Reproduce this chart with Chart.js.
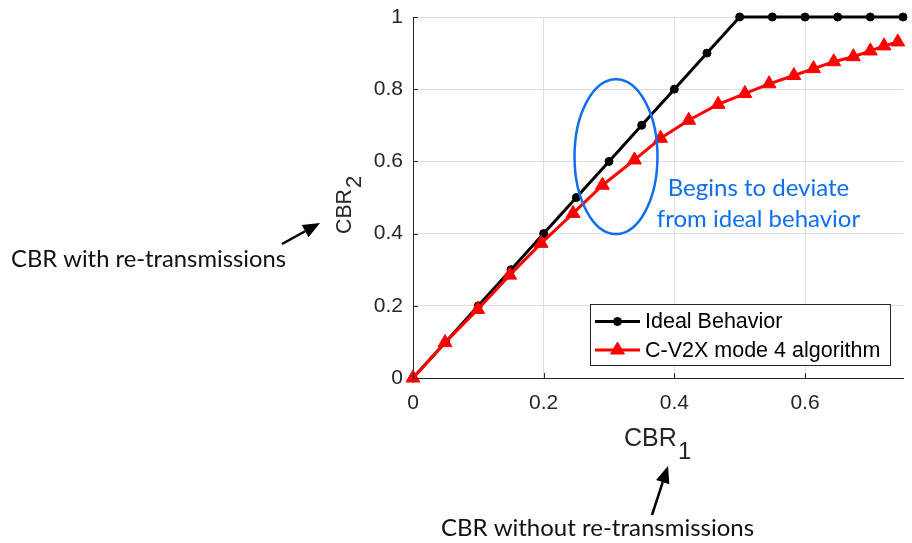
<!DOCTYPE html>
<html>
<head>
<meta charset="utf-8">
<title>CBR</title>
<script src="https://cdn.jsdelivr.net/npm/chart.js@4.4.1/dist/chart.umd.min.js"></script>
<style>
  html, body { margin: 0; padding: 0; background: #fff; }
  #wrap { width: 912px; height: 543px; }
</style>
</head>
<body>
<div id="wrap"><canvas id="cbrChart" width="912" height="543"></canvas></div>
<script>
// ideal behaviour: CBR2 = 2*CBR1, saturating at 1
var idealX = [0, 0.05, 0.1, 0.15, 0.2, 0.25, 0.3, 0.35, 0.4, 0.45, 0.5, 0.55, 0.6, 0.65, 0.7, 0.75];
var idealY = [0, 0.1, 0.2, 0.3, 0.4, 0.5, 0.6, 0.7, 0.8, 0.9, 1, 1, 1, 1, 1, 1];

// simulated C-V2X mode 4
var modeX = [0, 0.049, 0.099, 0.148, 0.196, 0.245, 0.29, 0.339, 0.379, 0.422,
             0.467, 0.508, 0.545, 0.583, 0.613, 0.644, 0.674, 0.7, 0.721, 0.742];
var modeY = [0, 0.098, 0.19, 0.285, 0.373, 0.456, 0.534, 0.604, 0.664, 0.714,
             0.758, 0.788, 0.815, 0.838, 0.857, 0.876, 0.89, 0.906, 0.92, 0.931];

var xTicks = [0, 0.2, 0.4, 0.6];
var xTickLabels = ['0', '0.2', '0.4', '0.6'];
var yTicks = [0, 0.2, 0.4, 0.6, 0.8, 1];
var yTickLabels = ['0', '0.2', '0.4', '0.6', '0.8', '1'];

var seriesNames = ['Ideal Behavior', 'C-V2X mode 4 algorithm'];

function toPoints(xs, ys) {
  return xs.map(function (v, i) { return { x: v, y: ys[i] }; });
}

var AXIS = '#262626';
var BLUE = '#0f6ff0';
var SANS = '"Liberation Sans", Arial, sans-serif';
var NOTE = 'Lato, "Open Sans", sans-serif';

function arrow(ctx, x0, y0, x1, y1) {
  var ang = Math.atan2(y1 - y0, x1 - x0);
  var hl = 17, hw = 7;
  var bx = x1 - Math.cos(ang) * hl, by = y1 - Math.sin(ang) * hl;
  ctx.strokeStyle = '#000';
  ctx.fillStyle = '#000';
  ctx.lineWidth = 2.5;
  ctx.beginPath();
  ctx.moveTo(x0, y0);
  ctx.lineTo(bx, by);
  ctx.stroke();
  ctx.beginPath();
  ctx.moveTo(x1, y1);
  ctx.lineTo(bx + Math.sin(ang) * hw, by - Math.cos(ang) * hw);
  ctx.lineTo(bx - Math.sin(ang) * hw, by + Math.cos(ang) * hw);
  ctx.closePath();
  ctx.fill();
}

// ticks pointing inwards, axis titles, legend box and the notes around the plot
var extras = {
  id: 'extras',
  afterDraw: function (chart) {
    var ctx = chart.ctx, xs = chart.scales.x, ys = chart.scales.y, a = chart.chartArea;
    ctx.save();

    ctx.strokeStyle = AXIS;
    ctx.lineWidth = 1;
    ctx.beginPath();
    xTicks.forEach(function (v) {
      var px = Math.round(xs.getPixelForValue(v)) + 0.5;
      ctx.moveTo(px, a.bottom); ctx.lineTo(px, a.bottom - 5);
    });
    yTicks.forEach(function (v) {
      var py = Math.round(ys.getPixelForValue(v)) + 0.5;
      ctx.moveTo(a.left, py); ctx.lineTo(a.left + 5, py);
    });
    ctx.stroke();

    // axis titles with subscripts
    ctx.fillStyle = AXIS;
    ctx.textAlign = 'left';
    ctx.textBaseline = 'alphabetic';
    ctx.font = '25px ' + SANS;
    ctx.fillText('CBR', 624, 446, 53);
    ctx.font = '24px ' + SANS;
    ctx.fillText('1', 678, 459);

    ctx.save();
    ctx.translate(351, 234);
    ctx.rotate(-Math.PI / 2);
    ctx.font = '22px ' + SANS;
    ctx.fillText('CBR', 0, 0, 45);
    ctx.fillText('2', 46, 10);
    ctx.restore();

    // legend
    var lx = 590.5, ly = 304.5, lw = 300, lh = 61;
    ctx.fillStyle = '#fff';
    ctx.fillRect(lx, ly, lw, lh);
    ctx.strokeStyle = AXIS;
    ctx.lineWidth = 1;
    ctx.strokeRect(lx, ly, lw, lh);
    var rows = [321.5, 350];
    var fits = [140, 240];
    chart.data.datasets.forEach(function (ds, i) {
      var ry = rows[i];
      ctx.strokeStyle = ds.borderColor;
      ctx.lineWidth = ds.borderWidth;
      ctx.beginPath();
      ctx.moveTo(595, ry); ctx.lineTo(640, ry);
      ctx.stroke();
      ctx.fillStyle = ds.pointBackgroundColor;
      ctx.strokeStyle = ds.pointBorderColor;
      ctx.lineWidth = ds.pointBorderWidth;
      Chart.helpers.drawPoint(ctx, {
        pointStyle: ds.pointStyle, radius: ds.pointRadius, rotation: 0, borderWidth: ds.pointBorderWidth
      }, 617.5, ry);
      ctx.fillStyle = '#000';
      ctx.font = '21.5px ' + SANS;
      ctx.textBaseline = 'middle';
      ctx.fillText(seriesNames[i], 645, ry + 1, fits[i]);
    });

    // deviation marker
    var cx = xs.getPixelForValue(0.3107), cy = ys.getPixelForValue(0.6133);
    var rx = xs.getPixelForValue(0.3742) - cx, ry2 = cy - ys.getPixelForValue(0.8277);
    ctx.strokeStyle = BLUE;
    ctx.lineWidth = 2.5;
    ctx.beginPath();
    ctx.ellipse(cx, cy, rx, ry2, 0, 0, Math.PI * 2);
    ctx.stroke();

    ctx.fillStyle = BLUE;
    ctx.textBaseline = 'alphabetic';
    ctx.textAlign = 'center';
    ctx.font = '24px ' + NOTE;
    ctx.fillText('Begins to deviate', 758.5, 196, 182);
    ctx.fillText('from ideal behavior', 758.5, 227, 210);

    // notes outside the axes
    ctx.fillStyle = '#111';
    ctx.font = '24px ' + NOTE;
    ctx.textAlign = 'left';
    ctx.fillText('CBR with re-transmissions', 11, 267, 275);
    ctx.textAlign = 'center';
    ctx.fillText('CBR without re-transmissions', 597.5, 536, 316);

    arrow(ctx, 282, 244, 320, 223);
    arrow(ctx, 652, 515, 668, 466);

    ctx.restore();
  }
};

var ctx = document.getElementById('cbrChart').getContext('2d');
var chart = new Chart(ctx, {
  type: 'scatter',
  data: {
    datasets: [{
      label: seriesNames[0],
      data: toPoints(idealX, idealY),
      showLine: true,
      borderColor: '#000',
      borderWidth: 3,
      pointStyle: 'circle',
      pointRadius: 4,
      pointBackgroundColor: '#000',
      pointBorderColor: '#000',
      pointBorderWidth: 1,
      clip: false,
      order: 2
    }, {
      label: seriesNames[1],
      data: toPoints(modeX, modeY),
      showLine: true,
      borderColor: '#ff0000',
      borderWidth: 3,
      pointStyle: 'triangle',
      pointRadius: 8,
      pointBackgroundColor: '#ff0000',
      pointBorderColor: '#ff0000',
      pointBorderWidth: 1,
      clip: false,
      order: 1
    }]
  },
  options: {
    responsive: false,
    animation: false,
    layout: { padding: { top: 17, right: 7, left: 0, bottom: 0 } },
    plugins: { legend: { display: false }, tooltip: { enabled: false } },
    scales: {
      x: {
        type: 'linear',
        min: 0,
        max: 0.75,
        afterBuildTicks: function (s) { s.ticks = xTicks.map(function (v) { return { value: v }; }); },
        afterFit: function (s) { s.height = 165; s.paddingLeft = 0; s.paddingRight = 0; },
        grid: { color: '#dfdfdf', drawTicks: false },
        border: { display: true, color: AXIS, width: 1 },
        ticks: {
          padding: 13,
          color: AXIS,
          font: { family: SANS, size: 21 },
          callback: function (v, i) { return xTickLabels[i]; }
        }
      },
      y: {
        type: 'linear',
        min: 0,
        max: 1,
        afterBuildTicks: function (s) { s.ticks = yTicks.map(function (v) { return { value: v }; }); },
        afterFit: function (s) { s.width = 413; s.paddingTop = 0; s.paddingBottom = 0; },
        grid: { color: '#dfdfdf', drawTicks: false },
        border: { display: true, color: AXIS, width: 1 },
        ticks: {
          padding: 10,
          color: AXIS,
          font: { family: SANS, size: 21 },
          callback: function (v, i) { return yTickLabels[i]; }
        }
      }
    }
  },
  plugins: [extras]
});
</script>
</body>
</html>
